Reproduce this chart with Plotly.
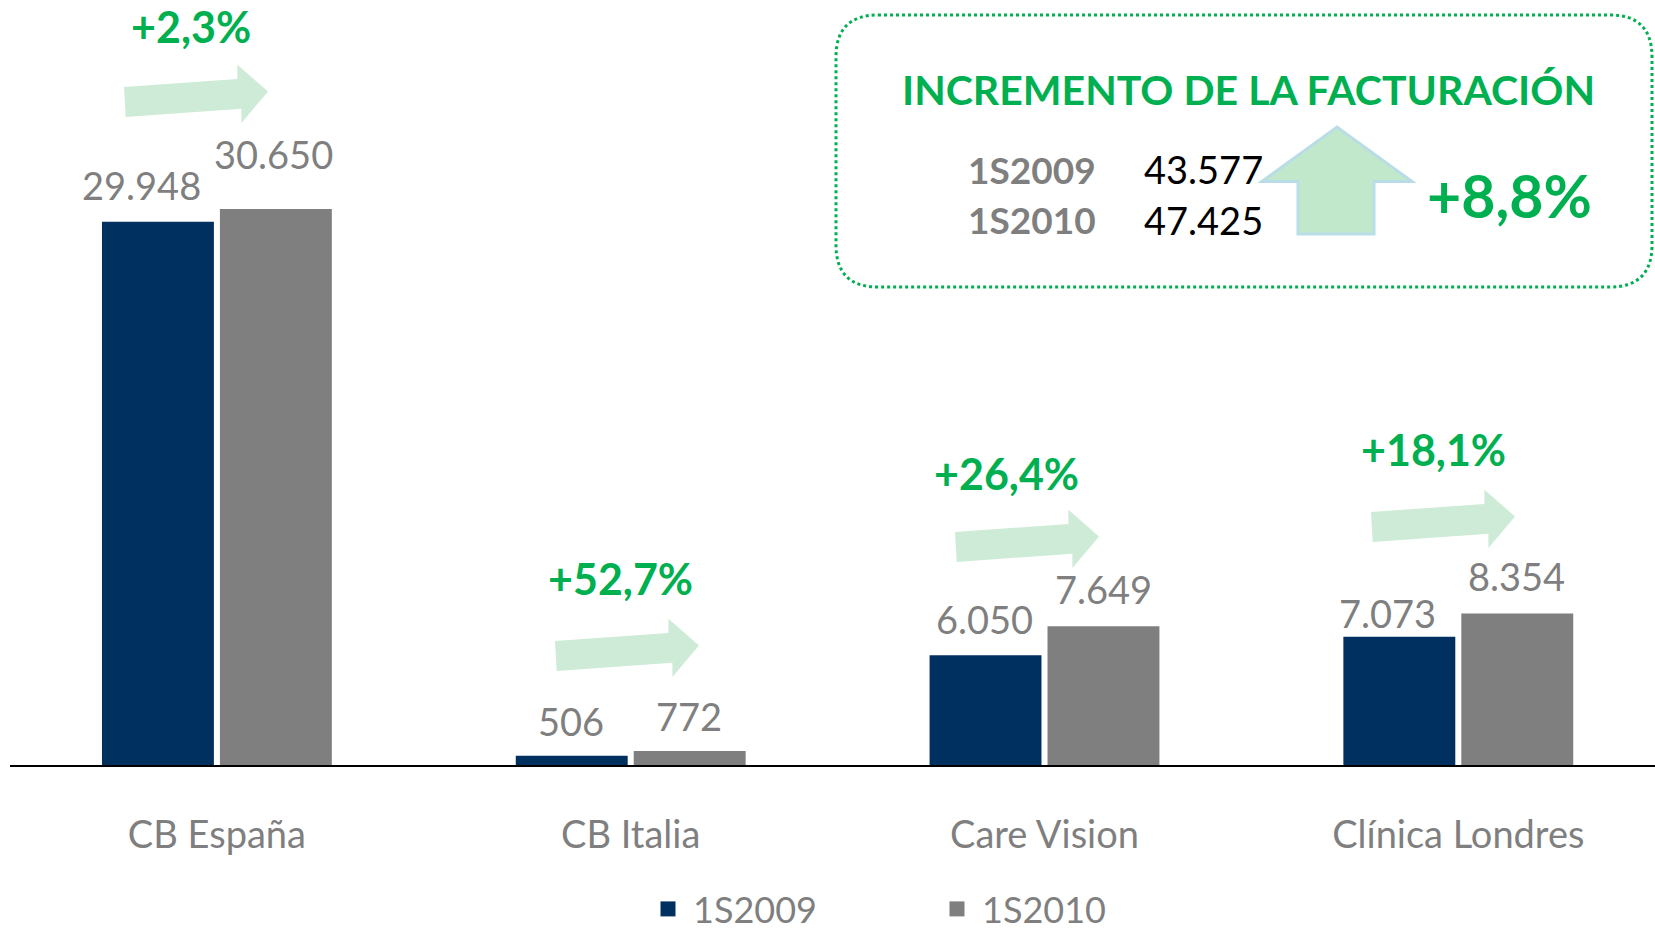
import plotly.graph_objects as go

# ---------------- data ----------------
categories = ["CB España", "CB Italia", "Care Vision", "Clínica Londres"]
series_names = ["1S2009", "1S2010"]
values_2009 = [29948, 506, 6050, 7073]
values_2010 = [30650, 772, 7649, 8354]
growth_labels = ["+2,3%", "+52,7%", "+26,4%", "+18,1%"]
total_labels = ["1S2009", "1S2010"]
total_values = [43577, 47425]
total_growth = "+8,8%"
box_title = "INCREMENTO DE LA FACTURACIÓN"

# ---------------- styles / layout ----------------
W, H = 1655, 933
AXIS_LEFT = 10               # px where the plot starts
BASE = 765                   # px of the baseline
PX_PER_UNIT = 0.01814
ML, MR, MT = AXIS_LEFT, 0, 0
PW = W - ML - MR
PH = BASE - MT
MB = H - MT - PH
NAVY = "#00305F"
GREY = "#7F7F7F"
GREEN = "#00B050"
ARROW_FILL = "#cdebd6"
FONT = "Lato"
YMAX = PH / PX_PER_UNIT
CAT_W = 413.8


def px_x(px):
    return (px - AXIS_LEFT) / PW


def px_y(py):
    return (BASE - py) / PH


def P(x, y):
    return f"{px_x(x):.5f},{px_y(y):.5f}"


def fmt(v):
    return f"{v:,}".replace(",", ".")


fig = go.Figure()
fig.add_trace(go.Bar(name=series_names[0], x=categories, y=values_2009, showlegend=False,
                     marker=dict(color=NAVY, line=dict(width=0))))
fig.add_trace(go.Bar(name=series_names[1], x=categories, y=values_2010, showlegend=False,
                     marker=dict(color=GREY, line=dict(width=0))))
# legend entries with larger square symbols
for name, col in zip(series_names, [NAVY, GREY]):
    fig.add_trace(go.Scatter(name=name, x=[None], y=[None], mode="markers",
                             marker=dict(symbol="square", size=15, color=col), showlegend=True))

annotations = []
shapes = []

# value labels above bars (pixel nudges relative to category centre)
lab_dx = [(-75, 57), (-60, 58), (-60, 59), (-71, 58)]
lab_dy = [(37, 55), (35, 35), (36, 37), (24, 37)]
for i in range(len(categories)):
    for s, vals in enumerate([values_2009, values_2010]):
        annotations.append(dict(
            x=i, y=vals[i], xref="x", yref="y", text=fmt(vals[i]),
            showarrow=False, xanchor="center", yanchor="middle",
            xshift=lab_dx[i][s], yshift=lab_dy[i][s],
            font=dict(family=FONT, size=38, color=GREY)))

# growth labels and decorative arrows
growth_pos = [(191, 27), (620, 578), (1006, 473), (1433, 449)]
arrow_anchor = [(124, 87), (555, 641), (955, 532), (1371, 512)]
arrow_tpl = [(0, 0), (113.4, -8), (113.4, -22.3), (144, 4.4),
             (117.4, 36), (117.4, 21.7), (1.7, 30)]
for i in range(len(categories)):
    gx, gy = growth_pos[i]
    annotations.append(dict(
        x=px_x(gx), y=px_y(gy), xref="paper", yref="paper",
        text=growth_labels[i], showarrow=False, xanchor="center", yanchor="middle",
        font=dict(family=FONT, size=43, color=GREEN, weight="bold")))
    ax, ay = arrow_anchor[i]
    path = "M " + " L ".join(P(ax + dx, ay + dy) for dx, dy in arrow_tpl) + " Z"
    shapes.append(dict(type="path", xref="paper", yref="paper", path=path,
                       fillcolor=ARROW_FILL, line=dict(width=0), layer="below"))

# dotted rounded box
bx0, by0, bx1, by1, r = 836, 15, 1652, 287, 42
box_path = (f"M {P(bx0 + r, by0)} L {P(bx1 - r, by0)} Q {P(bx1, by0)} {P(bx1, by0 + r)} "
            f"L {P(bx1, by1 - r)} Q {P(bx1, by1)} {P(bx1 - r, by1)} "
            f"L {P(bx0 + r, by1)} Q {P(bx0, by1)} {P(bx0, by1 - r)} "
            f"L {P(bx0, by0 + r)} Q {P(bx0, by0)} {P(bx0 + r, by0)} Z")
shapes.append(dict(type="path", xref="paper", yref="paper", path=box_path,
                   line=dict(color=GREEN, width=3, dash="dot"), fillcolor="rgba(0,0,0,0)"))

annotations.append(dict(x=px_x(1248), y=px_y(89), xref="paper", yref="paper",
                        text=box_title, showarrow=False, xanchor="center", yanchor="middle",
                        font=dict(family=FONT, size=41, color=GREEN, weight="bold")))
for k, yy in enumerate([169, 220]):
    annotations.append(dict(x=px_x(966), y=px_y(yy), xref="paper", yref="paper",
                            text=total_labels[k], showarrow=False, xanchor="left", yanchor="middle",
                            font=dict(family=FONT, size=37, color=GREY, weight="bold")))
    annotations.append(dict(x=px_x(1142), y=px_y(yy), xref="paper", yref="paper",
                            text=fmt(total_values[k]), showarrow=False, xanchor="left", yanchor="middle",
                            font=dict(family=FONT, size=38, color="#000000")))
annotations.append(dict(x=px_x(1509), y=px_y(195), xref="paper", yref="paper",
                        text=total_growth, showarrow=False, xanchor="center", yanchor="middle",
                        font=dict(family=FONT, size=59, color=GREEN, weight="bold")))

# up arrow
up = [(1262, 181.5), (1337, 127), (1412, 181.5), (1374, 181.5), (1374, 234),
      (1298, 234), (1298, 181.5)]
up_path = "M " + " L ".join(P(x, y) for x, y in up) + " Z"
shapes.append(dict(type="path", xref="paper", yref="paper", path=up_path,
                   fillcolor="#c2e8cb", line=dict(color="#b9dde6", width=3)))

fig.update_layout(
    width=W, height=H,
    margin=dict(l=ML, r=MR, t=MT, b=MB, pad=0, autoexpand=False),
    paper_bgcolor="white", plot_bgcolor="white",
    barmode="group", bargap=0.43, bargroupgap=0.051,
    font=dict(family=FONT, color=GREY),
    showlegend=True,
    legend=dict(orientation="h", x=px_x(643), xanchor="left", y=px_y(909), yanchor="middle",
                font=dict(family=FONT, size=36, color=GREY), itemwidth=40,
                entrywidth=234, entrywidthmode="pixels", bgcolor="rgba(0,0,0,0)"),
    annotations=annotations, shapes=shapes,
)
fig.update_xaxes(range=[-0.5, -0.5 + PW / CAT_W], showline=True, linecolor="#000000", linewidth=1.5,
                 ticks="", showgrid=False, zeroline=False, ticklabelstandoff=36,
                 tickfont=dict(family=FONT, size=38, color=GREY), fixedrange=True)
fig.update_yaxes(range=[0, YMAX], visible=False, showgrid=False, zeroline=False, fixedrange=True)

fig.write_html("out.html", config={"displayModeBar": False},
               post_script="document.body.style.margin='0px';document.body.style.overflow='hidden';")
